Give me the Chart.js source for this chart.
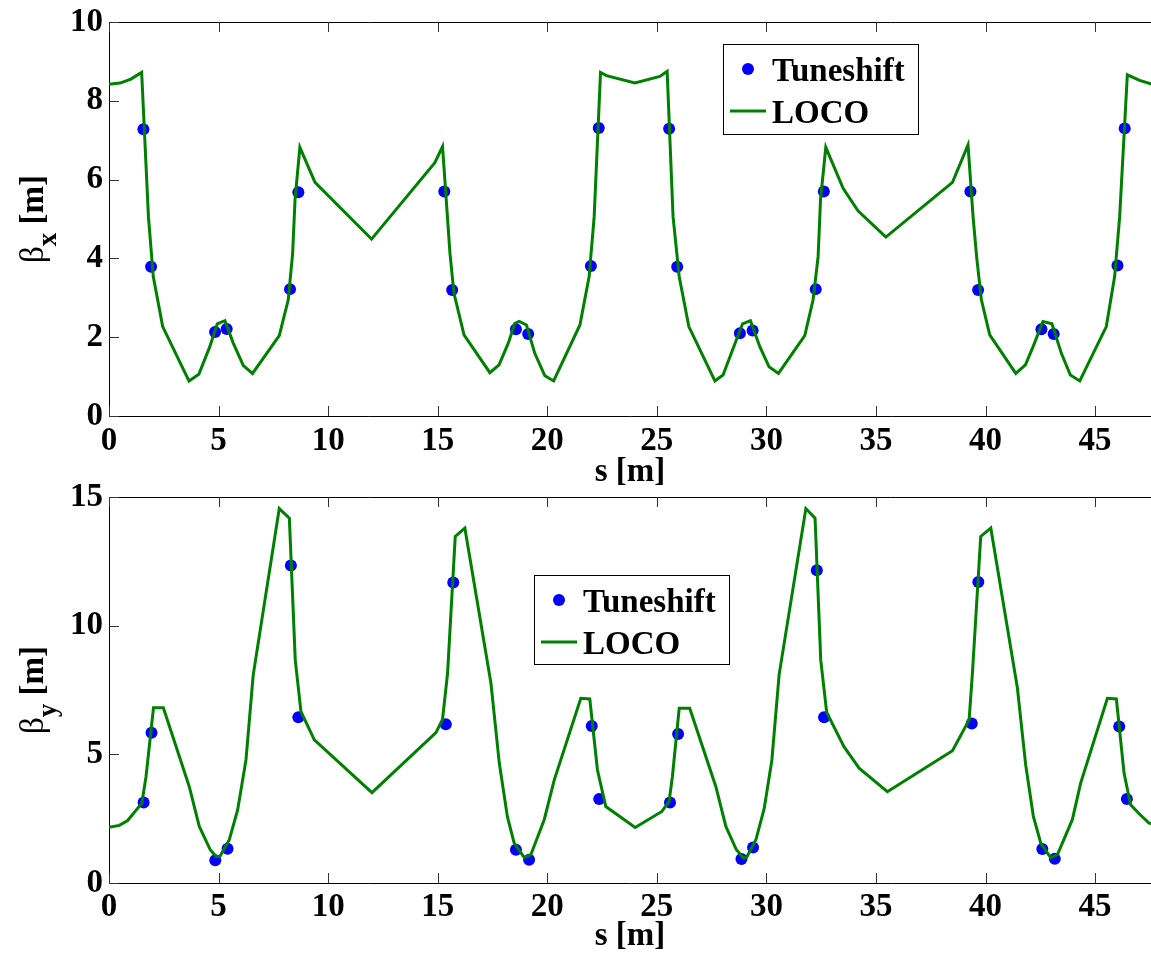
<!DOCTYPE html>
<html>
<head>
<meta charset="utf-8">
<script src="https://cdn.jsdelivr.net/npm/chart.js@4.4.1/dist/chart.umd.min.js"></script>
<style>
  body { margin: 0; background: #fff; }
  #wrap { position: relative; width: 1151px; height: 955px; overflow: hidden; background: #fff; }
  canvas { position: absolute; left: 0; }
</style>
</head>
<body>
<div id="wrap">
  <canvas id="betaX_canvas" width="1157" height="492" style="top:0"></canvas>
  <canvas id="betaY_canvas" width="1157" height="475" style="top:480px"></canvas>
</div>
<script>
// beta_x, LOCO fit (s in m, beta in m)
const sLocoX = [0, 0.5, 1.0, 1.49, 1.8, 2.02, 2.45, 3.65, 4.1, 4.6, 4.94, 5.29, 5.67, 6.13, 6.55, 7.77, 8.18, 8.38, 8.49, 8.71,
  9.4, 11.98, 14.87, 15.22, 15.56, 15.74, 16.2, 17.38, 17.8, 18.22, 18.52, 18.72, 19.05, 19.43, 19.89, 20.29, 21.49, 21.91, 22.14, 22.43,
  22.7, 24.0, 25.14, 25.47, 25.74, 26.02, 26.46, 27.65, 28.02, 28.51, 28.91, 29.27, 29.7, 30.12, 30.55, 31.75, 32.13, 32.36, 32.47, 32.71,
  33.5, 34.18, 35.45, 38.49, 39.2, 39.43, 39.6, 39.81, 40.19, 41.38, 41.82, 42.17, 42.62, 43.03, 43.46, 43.87, 44.3, 45.51, 45.89, 46.12,
  46.47, 47.03, 47.6];
const betaXLoco = [8.42, 8.45, 8.55, 8.72, 5.06, 3.54, 2.27, 0.89, 1.06, 1.76, 2.34, 2.42, 1.85, 1.28, 1.08, 2.04, 2.95, 4.13, 5.49, 6.82,
  5.93, 4.49, 6.43, 6.84, 4.13, 3.12, 2.06, 1.10, 1.30, 1.85, 2.35, 2.40, 2.31, 1.59, 1.02, 0.89, 2.31, 3.54, 5.06, 8.72,
  8.64, 8.45, 8.62, 8.75, 5.06, 3.54, 2.27, 0.89, 1.04, 1.76, 2.34, 2.42, 1.76, 1.25, 1.08, 2.04, 2.95, 4.05, 5.50, 6.82,
  5.78, 5.21, 4.54, 5.93, 6.88, 5.06, 4.00, 2.95, 2.06, 1.08, 1.30, 1.76, 2.40, 2.34, 1.59, 1.04, 0.89, 2.27, 3.54, 5.06,
  8.66, 8.52, 8.42];

// beta_x, tune shift measurement
const sTuneX = [1.57, 1.92, 4.84, 5.37, 8.26, 8.64, 15.3, 15.66, 18.57, 19.13, 21.99, 22.35,
  25.56, 25.93, 28.79, 29.37, 32.25, 32.62, 39.31, 39.66, 42.55, 43.11, 46.02, 46.35];
const betaXTune = [7.28, 3.79, 2.13, 2.21, 3.22, 5.68, 5.70, 3.20, 2.20, 2.08, 3.81, 7.31,
  7.29, 3.79, 2.10, 2.17, 3.22, 5.70, 5.70, 3.20, 2.20, 2.08, 3.82, 7.30];

// beta_y, LOCO fit
const sLocoY = [0, 0.47, 0.85, 1.5, 1.69, 2.03, 2.48, 3.66, 4.12, 4.62, 4.88, 5.06, 5.49, 5.87, 6.25, 6.58, 7.77, 8.23, 8.5, 8.76,
  9.37, 12.0, 14.92, 15.22, 15.45, 15.8, 16.24, 17.43, 17.81, 18.18, 18.49, 18.95, 19.25, 19.86, 20.32, 21.53, 21.94, 22.29, 22.67, 24.01,
  25.23, 25.56, 25.71, 26.02, 26.5, 27.69, 28.15, 28.63, 28.95, 29.1, 29.52, 29.9, 30.25, 30.58, 31.8, 32.22, 32.48, 32.75, 33.54, 34.23,
  35.52, 38.49, 39.25, 39.4, 39.78, 40.24, 41.45, 41.83, 42.18, 42.52, 42.97, 43.28, 43.96, 44.34, 45.56, 45.97, 46.32, 46.62, 47.0, 47.46,
  47.6];
const betaYLoco = [2.17, 2.24, 2.43, 3.10, 4.14, 6.81, 6.81, 3.75, 2.20, 1.29, 1.03, 1.03, 1.68, 2.84, 4.78, 8.08, 14.55, 14.18, 8.66, 6.66,
  5.56, 3.51, 5.84, 6.36, 8.15, 13.47, 13.79, 7.76, 4.66, 2.58, 1.55, 0.99, 1.10, 2.46, 4.01, 7.18, 7.15, 4.39, 2.97, 2.16,
  2.78, 3.17, 4.14, 6.79, 6.79, 3.75, 2.20, 1.29, 0.97, 1.00, 1.68, 2.90, 4.78, 8.10, 14.55, 14.18, 8.66, 6.63, 5.30, 4.46,
  3.55, 5.14, 6.34, 8.15, 13.47, 13.79, 7.60, 4.60, 2.60, 1.55, 0.99, 1.10, 2.46, 3.88, 7.18, 7.15, 4.27, 3.04, 2.70, 2.33,
  2.30];

// beta_y, tune shift measurement
const sTuneY = [1.58, 1.94, 4.85, 5.41, 8.3, 8.64, 15.37, 15.71, 18.57, 19.17, 22.03, 22.37,
  25.6, 25.97, 28.86, 29.39, 32.3, 32.63, 39.37, 39.67, 42.59, 43.16, 46.1, 46.45];
const betaYTune = [3.13, 5.84, 0.88, 1.33, 12.34, 6.44, 6.17, 11.68, 1.29, 0.90, 6.10, 3.26,
  3.13, 5.79, 0.93, 1.38, 12.15, 6.44, 6.20, 11.70, 1.32, 0.94, 6.08, 3.26];

const sMax = 47.55;
const legendLabels = ['Tuneshift', 'LOCO'];

const FONT = '"Liberation Serif", "Times New Roman", serif';
const BLUE = '#0000ff';
const GREEN = '#008000';

function toPoints(xs, ys) {
  return xs.map((v, i) => ({ x: v, y: ys[i] }));
}

// box on top, inward ticks, legend and y title with subscript
const matlabLook = {
  id: 'matlabLook',
  afterDraw(chart, args, opts) {
    const { ctx, chartArea: a, scales: { x, y } } = chart;
    ctx.save();

    ctx.strokeStyle = '#000';
    ctx.lineWidth = 1;
    ctx.beginPath();
    ctx.moveTo(a.left, a.top + 0.5);
    ctx.lineTo(a.right, a.top + 0.5);
    ctx.stroke();

    ctx.strokeStyle = '#333';
    ctx.beginPath();
    x.ticks.forEach(t => {
      const px = Math.round(x.getPixelForValue(t.value)) + 0.5;
      ctx.moveTo(px, a.bottom); ctx.lineTo(px, a.bottom - 10);
      ctx.moveTo(px, a.top); ctx.lineTo(px, a.top + 10);
    });
    y.ticks.forEach(t => {
      const py = Math.round(y.getPixelForValue(t.value)) + 0.5;
      ctx.moveTo(a.left, py); ctx.lineTo(a.left + 10, py);
    });
    ctx.stroke();

    // legend
    const L = opts.legend;
    const bx = a.left + L.left, by = a.top + L.top;
    ctx.fillStyle = '#fff';
    ctx.fillRect(bx, by, L.w, L.h);
    ctx.strokeStyle = '#000';
    ctx.lineWidth = 1;
    ctx.strokeRect(bx + 0.5, by + 0.5, L.w, L.h);
    ctx.fillStyle = BLUE;
    ctx.beginPath();
    ctx.arc(bx + 25, by + 25, 6, 0, Math.PI * 2);
    ctx.fill();
    ctx.strokeStyle = GREEN;
    ctx.lineWidth = 3;
    ctx.beginPath();
    ctx.moveTo(bx + 7, by + 67);
    ctx.lineTo(bx + 43, by + 67);
    ctx.stroke();
    ctx.fillStyle = '#000';
    ctx.font = 'bold 33px ' + FONT;
    ctx.textBaseline = 'alphabetic';
    ctx.textAlign = 'left';
    ctx.fillText(legendLabels[0], bx + 49, by + 37);
    ctx.fillText(legendLabels[1], bx + 49, by + 79);

    // y axis title: beta_sub [m]
    const cy = (a.top + a.bottom) / 2;
    ctx.translate(43, cy);
    ctx.rotate(-Math.PI / 2);
    const fBeta = '33px ' + FONT;
    const fSub = 'bold 27px ' + FONT;
    const fMain = 'bold 33px ' + FONT;
    ctx.font = fBeta; const w1 = ctx.measureText('β').width;
    ctx.font = fSub; const w2 = ctx.measureText(opts.sub).width;
    ctx.font = fMain; const w3 = ctx.measureText(' [m]').width;
    let tx = -(w1 + w2 + w3) / 2;
    ctx.font = fBeta; ctx.fillText('β', tx, 0); tx += w1;
    ctx.font = fSub; ctx.fillText(opts.sub, tx, 13); tx += w2;
    ctx.font = fMain; ctx.fillText(' [m]', tx, 0);

    ctx.restore();
  }
};

function makeChart(canvasId, cfg) {
  return new Chart(document.getElementById(canvasId), {
    type: 'scatter',
    data: {
      datasets: [
        {
          label: legendLabels[1],
          data: toPoints(cfg.sLoco, cfg.loco),
          showLine: true,
          borderColor: GREEN,
          borderWidth: 3,
          pointRadius: 0,
          tension: 0,
          order: 0
        },
        {
          label: legendLabels[0],
          data: toPoints(cfg.sTune, cfg.tune),
          backgroundColor: BLUE,
          borderWidth: 0,
          pointRadius: 6,
          order: 1
        }
      ]
    },
    options: {
      responsive: false,
      animation: false,
      layout: { padding: { top: cfg.top, left: 0, right: 0, bottom: 0 } },
      scales: {
        x: {
          type: 'linear',
          min: 0,
          max: sMax,
          afterFit: s => { s.height = cfg.xHeight; },
          grid: { display: false, drawTicks: false },
          border: { display: true, color: '#000', width: 1 },
          ticks: {
            stepSize: 5,
            includeBounds: false,
            padding: cfg.tickPad,
            color: '#000',
            font: { family: FONT, size: 33, weight: 'bold' }
          },
          title: {
            display: true,
            text: 's [m]',
            color: '#000',
            padding: 0,
            font: { family: FONT, size: 33, weight: 'bold', lineHeight: cfg.titleLH }
          }
        },
        y: {
          min: 0,
          max: cfg.yMax,
          afterFit: s => { s.width = 109; },
          grid: { display: false, drawTicks: false },
          border: { display: true, color: '#000', width: 1 },
          ticks: {
            stepSize: cfg.yStep,
            padding: 6,
            color: '#000',
            font: { family: FONT, size: 33, weight: 'bold', lineHeight: 0.6 }
          }
        }
      },
      plugins: {
        legend: { display: false },
        tooltip: { enabled: false },
        matlabLook: { sub: cfg.sub, legend: cfg.legend }
      }
    },
    plugins: [matlabLook]
  });
}

makeChart('betaX_canvas', {
  sLoco: sLocoX, loco: betaXLoco, sTune: sTuneX, tune: betaXTune,
  yMax: 10, yStep: 2, sub: 'x', top: 22, xHeight: 76, tickPad: 6, titleLH: 1.2,
  legend: { left: 614, top: 22, w: 195, h: 90 }
});

makeChart('betaY_canvas', {
  sLoco: sLocoY, loco: betaYLoco, sTune: sTuneY, tune: betaYTune,
  yMax: 15, yStep: 5, sub: 'y', top: 17, xHeight: 72, tickPad: 5, titleLH: 1.1,
  legend: { left: 425, top: 78, w: 195, h: 89 }
});
</script>
</body>
</html>
